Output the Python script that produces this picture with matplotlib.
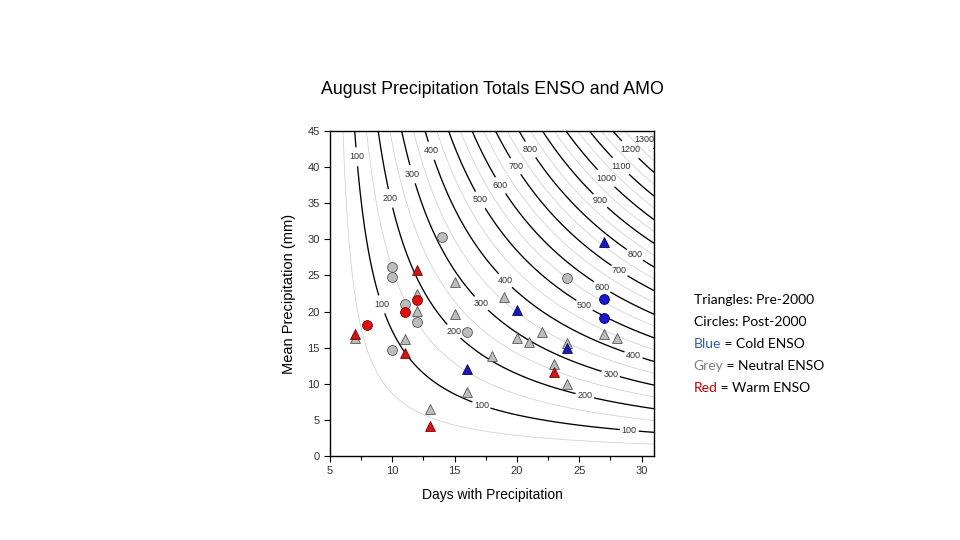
import numpy as np
import matplotlib
matplotlib.use("Agg")
import matplotlib.pyplot as plt

plt.rcParams['font.family'] = ['Liberation Sans', 'DejaVu Sans']

# pre-2000 (triangles)
tri_grey_days = [7, 11, 12, 12, 13, 15, 15, 16, 18, 19, 20, 21, 22, 23, 24, 24, 27, 28]
tri_grey_mean = [16.4, 16.2, 22.4, 20.1, 6.5, 24.1, 19.7, 8.9, 13.8, 22.0, 16.4, 15.8, 17.1, 12.7, 15.6, 9.9, 16.9, 16.3]
tri_red_days = [7, 11, 12, 13, 23]
tri_red_mean = [16.9, 14.2, 25.8, 4.1, 11.6]
tri_blue_days = [16, 20, 24, 27]
tri_blue_mean = [12.1, 20.2, 14.9, 29.6]

# post-2000 (circles)
circ_grey_days = [10, 10, 11, 12, 10, 14, 16, 24]
circ_grey_mean = [26.1, 24.8, 21.1, 18.6, 14.7, 30.3, 17.1, 24.7]
circ_red_days = [8, 11, 12]
circ_red_mean = [18.1, 19.9, 21.6]
circ_blue_days = [27, 27]
circ_blue_mean = [21.7, 19.1]

# isoline levels (totals)
black_levels = list(range(100, 1400, 100))
grey_levels = list(range(50, 1400, 100))

# where the isoline labels sit
label_pos = [(7.0, 41.4), (9.7, 35.6), (11.4, 38.9), (12.85, 42.1), (16.8, 35.2),
             (19.0, 37.8), (19.8, 40.0), (20.8, 42.1), (26.5, 35.0), (27.0, 38.2),
             (28.2, 39.9), (28.9, 42.1), (30.0, 43.4),
             (9.0, 20.9), (17.1, 6.8), (14.9, 17.2), (17.0, 20.9), (18.9, 24.0),
             (25.3, 20.5), (26.7, 23.0), (28.1, 25.3), (29.3, 27.4), (29.3, 13.7),
             (27.5, 11.2), (25.4, 8.0), (29.0, 3.3)]

fig = plt.figure(figsize=(9.6, 5.4), dpi=100)
ax = fig.add_axes([0.34375, 0.1556, 0.3375, 0.6019])

xx, yy = np.meshgrid(np.linspace(5, 31, 400), np.linspace(0, 45, 400))
zz = 1.18 * (xx - 5.1) * yy
ax.contour(xx, yy, zz, levels=grey_levels, colors='#cfcfcf', linewidths=0.55)
cs = ax.contour(xx, yy, zz, levels=black_levels, colors='black', linewidths=0.95)
labels = ax.clabel(cs, levels=black_levels, manual=label_pos, inline=True,
                   inline_spacing=2, fmt='%d', fontsize=6.5)
for t in labels:
    t.set_rotation(0)
    t.set_color('#333333')

mk = dict(s=50, linewidths=0.6, zorder=3)
ax.scatter(tri_grey_days, tri_grey_mean, marker='^', c='#bdbdbd', edgecolors='#555555', **mk)
ax.scatter(circ_grey_days, circ_grey_mean, marker='o', c='#bdbdbd', edgecolors='#555555', **mk)
ax.scatter(tri_red_days, tri_red_mean, marker='^', c='#d01515', edgecolors='#7a0000', **mk)
ax.scatter(circ_red_days, circ_red_mean, marker='o', c='#e01010', edgecolors='#7a0000', **mk)
ax.scatter(tri_blue_days, tri_blue_mean, marker='^', c='#1a1ab8', edgecolors='#000060', **mk)
ax.scatter(circ_blue_days, circ_blue_mean, marker='o', c='#1a1ad0', edgecolors='#000060', **mk)

ax.set_xlim(5, 31)
ax.set_ylim(0, 45)
ax.set_xticks(range(5, 31, 5))
ax.set_xticks(np.arange(7.5, 31, 5), minor=True)
ax.set_yticks(range(0, 46, 5))
ax.tick_params(labelsize=8, labelcolor='#333333', length=4, width=0.8)
ax.tick_params(which='minor', length=3, width=0.8)
for s in ax.spines.values():
    s.set_linewidth(1.0)

ax.set_xlabel('Days with Precipitation', fontsize=10, labelpad=8)
ax.set_ylabel('Mean Precipitation (mm)', fontsize=10.5, labelpad=8)
fig.text(0.5125, 0.835, 'August Precipitation Totals ENSO and AMO', fontsize=12.8,
         ha='center', va='center')

# key text on the right
tf = dict(fontsize=10, family=['Lato', 'DejaVu Sans'], va='center')
fig.text(0.7225, 0.444, 'Triangles: Pre-2000', color='black', **tf)
fig.text(0.7225, 0.404, 'Circles: Post-2000', color='black', **tf)
rows = [('Blue', '#2f62a8', ' = Cold ENSO', 0.363),
        ('Grey', '#808080', ' = Neutral ENSO', 0.322),
        ('Red', '#c00000', ' = Warm ENSO', 0.282)]
for word, col, rest, yy_ in rows:
    t = fig.text(0.7225, yy_, word, color=col, **tf)
    ax.annotate(rest, xy=(1, 0.5), xycoords=t, va='center', ha='left',
                fontsize=10, family=['Lato', 'DejaVu Sans'], color='black')

fig.savefig('out.png', dpi=100)
